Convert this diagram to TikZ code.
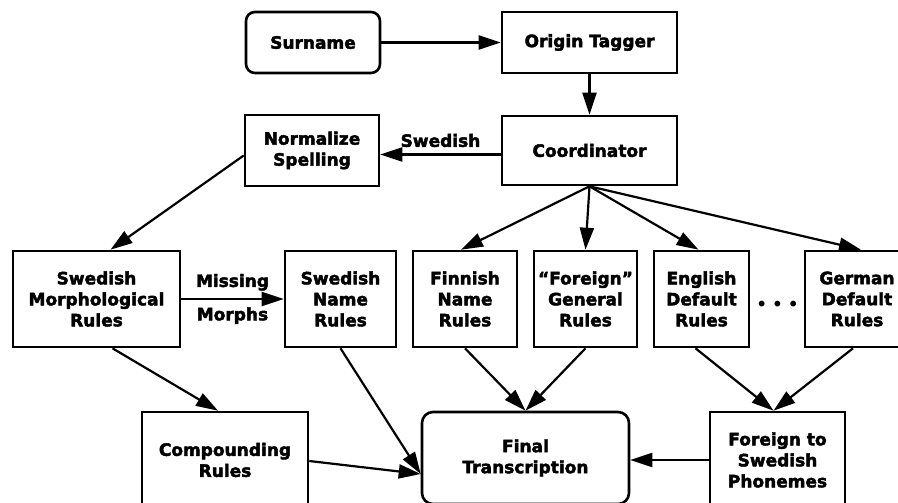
\documentclass[tikz,border=0pt]{standalone}
\usepackage{fontspec}
\setmainfont{DejaVu Sans}[BoldFeatures={FakeBold=2.5}]
\usetikzlibrary{arrows.meta}

\begin{document}
\begin{tikzpicture}[x=1pt, y=-1pt,
    every node/.style={font=\fontsize{17}{21}\selectfont\bfseries, align=center},
    box/.style={draw, line width=2.6pt, inner sep=0pt},
    rbox/.style={box, rounded corners=9pt},
    flow/.style={line width=2.2pt, -{Triangle[length=22pt, width=14pt]}}]
    \useasboundingbox (0,0) rectangle (898,503);

    % Top row
    \node[rbox, minimum width=134pt, minimum height=61pt] (surname) at (313,42.5) {Surname};
    \node[box, minimum width=175pt, minimum height=61pt] (tagger) at (589.5,42.5) {Origin Tagger};
    \node[box, minimum width=175pt, minimum height=69pt] (coord) at (589.5,150.5) {Coordinator};
    \node[box, minimum width=134pt, minimum height=71pt] (norm) at (312,150.5) {Normalize\\Spelling};

    % Rule boxes
    \node[box, minimum width=167pt, minimum height=96pt] (smr) at (96.5,299) {Swedish\\Morphological\\Rules};
    \node[box, minimum width=111pt, minimum height=96pt] (snr) at (340.5,299) {Swedish\\Name\\Rules};
    \node[box, minimum width=104pt, minimum height=96pt] (finnish) at (465,299) {Finnish\\Name\\Rules};
    \node[box, minimum width=103pt, minimum height=96pt] (foreign) at (585.5,299) {“Foreign”\\General\\Rules};
    \node[box, minimum width=95pt, minimum height=96pt] (english) at (701.5,299) {English\\Default\\Rules};
    \node[font=\fontsize{20}{20}\selectfont] (dots) at (777.5,306) {•\hspace{4pt}•\hspace{4pt}•};
    \node[box, minimum width=104pt, minimum height=96pt] (german) at (857,299) {German\\Default\\Rules};

    % Bottom row
    \node[box, minimum width=166pt, minimum height=96pt] (comp) at (225,460) {Compounding\\Rules};
    \node[rbox, rounded corners=11pt, minimum width=207pt, minimum height=92pt] (final) at (525.5,458) {Final\\Transcription};
    \node[box, minimum width=135pt, minimum height=96pt] (phon) at (777.5,460) {Foreign to\\Swedish\\Phonemes};

    % Arrows
    \draw[flow] (surname) -- (tagger);
    \draw[flow] (tagger) -- (coord);
    \draw[flow] ([yshift=-4pt]coord.west) -- node[above=3pt] (swedish) {Swedish} ([yshift=-4pt]norm.east);
    \draw[flow] ([yshift=-5pt]norm.west) -- ([xshift=14pt]smr.north);
    \draw[flow] (smr) -- node[above=4pt] (missing) {Missing} node[below=4pt] (morphs) {Morphs} (snr);
    \draw[flow] ([xshift=16pt]smr.south) -- ([xshift=-7pt]comp.north);
    \draw[flow] (snr.south) -- ([yshift=-16pt]final.west);
    \draw[flow] ([yshift=-1pt]comp.east) -- ([yshift=-16pt]final.west);
    \foreach \n/\dx in {finnish/-4, foreign/0, english/-3, german/4}
        \draw[flow] (coord.south) -- ([xshift=\dx pt]\n.north);
    \draw[flow] (finnish.south) -- (final.north);
    \draw[flow] (foreign.south) -- (final.north);
    \draw[flow] ([xshift=-6pt]english.south) -- ([xshift=-4pt]phon.north);
    \draw[flow] ([xshift=-4pt]german.south) -- ([xshift=-4pt]phon.north);
    \draw[flow] (phon.west) -- (phon.west -| final.east);
\end{tikzpicture}
\end{document}
